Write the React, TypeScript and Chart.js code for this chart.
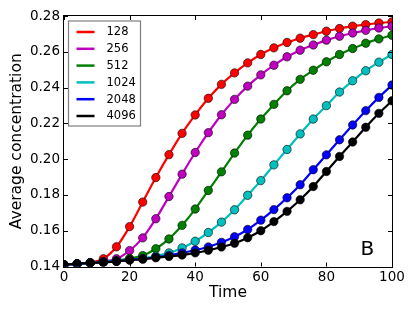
import React, { useEffect, useRef } from "react";
import { Chart, registerables } from "chart.js";

Chart.register(...registerables);

const times = [0, 4, 8, 12, 16, 20, 24, 28, 32, 36, 40, 44, 48, 52, 56, 60, 64, 68, 72, 76, 80, 84, 88, 92, 96, 100];

const seriesLabels = ["128", "256", "512", "1024", "2048", "4096"];
const seriesColors = ["#ff0000", "#bf00bf", "#008000", "#00bfbf", "#0000ff", "#000000"];

const s128 = [0.141, 0.1415, 0.1422, 0.1443, 0.151, 0.1623, 0.176, 0.1897, 0.2025, 0.2144, 0.2247, 0.234, 0.2418, 0.2482, 0.2538, 0.2585, 0.2622, 0.2652, 0.2676, 0.2696, 0.2715, 0.273, 0.2743, 0.2752, 0.2761, 0.2767];
const s256 = [0.141, 0.1415, 0.142, 0.1428, 0.1443, 0.1489, 0.156, 0.1667, 0.1791, 0.1916, 0.2037, 0.2148, 0.2248, 0.2334, 0.2408, 0.2471, 0.2525, 0.2572, 0.2609, 0.2638, 0.2665, 0.2687, 0.2705, 0.272, 0.2733, 0.2743];
const s512 = [0.141, 0.1415, 0.142, 0.1425, 0.1432, 0.1445, 0.1461, 0.1499, 0.1554, 0.163, 0.1721, 0.1825, 0.1929, 0.2034, 0.2134, 0.2224, 0.2306, 0.2382, 0.2446, 0.2497, 0.2544, 0.2585, 0.2618, 0.2648, 0.2672, 0.2692];
const s1024 = [0.141, 0.1415, 0.142, 0.1425, 0.143, 0.1437, 0.1445, 0.1458, 0.1476, 0.1504, 0.1541, 0.159, 0.1648, 0.1717, 0.1798, 0.188, 0.1968, 0.2054, 0.2141, 0.2224, 0.2299, 0.2375, 0.2438, 0.2494, 0.2542, 0.2585];
const s2048 = [0.141, 0.1415, 0.142, 0.1424, 0.1429, 0.1437, 0.1443, 0.1452, 0.1462, 0.1476, 0.1492, 0.1509, 0.1535, 0.1566, 0.1607, 0.1659, 0.1718, 0.1784, 0.1857, 0.1941, 0.2024, 0.2108, 0.2191, 0.2271, 0.2345, 0.2414];
const s4096 = [0.141, 0.1415, 0.142, 0.1424, 0.1429, 0.1436, 0.1441, 0.1449, 0.1456, 0.1464, 0.1476, 0.1491, 0.1509, 0.153, 0.1561, 0.16, 0.1651, 0.1708, 0.1773, 0.1847, 0.1931, 0.2015, 0.2096, 0.2178, 0.2256, 0.2326];

const seriesValues = [s128, s256, s512, s1024, s2048, s4096];

const xTicks = [0, 20, 40, 60, 80, 100];
const yTicks = [0.14, 0.16, 0.18, 0.2, 0.22, 0.24, 0.26, 0.28];

const FONT = "'DejaVu Sans', sans-serif";

const frameTicksPlugin = {
  id: "frameTicks",
  afterDatasetsDraw(chart: any) {
    const { ctx, chartArea } = chart;
    const { left, right, top, bottom } = chartArea;
    const xs = chart.scales.x;
    const ys = chart.scales.y;
    ctx.save();
    ctx.strokeStyle = "#000";
    ctx.lineWidth = 1;
    ctx.beginPath();
    const tl = 4;
    xTicks.forEach((t) => {
      const px = Math.round(xs.getPixelForValue(t)) + 0.5;
      ctx.moveTo(px, bottom);
      ctx.lineTo(px, bottom - tl);
      ctx.moveTo(px, top);
      ctx.lineTo(px, top + tl);
    });
    yTicks.forEach((v) => {
      const py = Math.round(ys.getPixelForValue(v)) + 0.5;
      ctx.moveTo(left, py);
      ctx.lineTo(left + tl, py);
      ctx.moveTo(right, py);
      ctx.lineTo(right - tl, py);
    });
    ctx.stroke();
    ctx.strokeRect(Math.round(left) - 0.5, Math.round(top) - 0.5, Math.round(right - left) + 1, Math.round(bottom - top) + 1);
    ctx.restore();
  },
  afterDraw(chart: any) {
    const { ctx, chartArea } = chart;
    ctx.save();
    // panel letter
    ctx.fillStyle = "#000";
    ctx.font = `20px ${FONT}`;
    ctx.textBaseline = "alphabetic";
    ctx.textAlign = "left";
    ctx.fillText("B", chartArea.right - 31.5, chartArea.bottom - 11.5);
    // legend
    const bx = chartArea.left + 4.5;
    const by = chartArea.top + 5;
    const bw = 72;
    const bh = 105;
    ctx.fillStyle = "#fff";
    ctx.fillRect(bx, by, bw, bh);
    ctx.strokeStyle = "#7f7f7f";
    ctx.lineWidth = 1.2;
    ctx.strokeRect(bx, by, bw, bh);
    ctx.font = `11.5px ${FONT}`;
    ctx.textBaseline = "middle";
    seriesLabels.forEach((lab, i) => {
      const y = by + 11 + i * 16.8;
      ctx.strokeStyle = seriesColors[i];
      ctx.lineWidth = 2.5;
      ctx.beginPath();
      ctx.moveTo(bx + 8, y);
      ctx.lineTo(bx + 26, y);
      ctx.stroke();
      ctx.fillStyle = "#000";
      ctx.fillText(lab, bx + 38, y + 0.5);
    });
    ctx.restore();
  },
};

export default function App() {
  const ref = useRef<HTMLCanvasElement | null>(null);
  useEffect(() => {
    if (!ref.current) return;
    const datasets = seriesLabels.map((lab, i) => ({
      label: lab,
      data: times.map((t, j) => ({ x: t, y: seriesValues[i][j] })),
      borderColor: seriesColors[i],
      backgroundColor: seriesColors[i],
      pointBackgroundColor: seriesColors[i],
      pointBorderColor: "rgba(0,0,0,0.75)",
      pointBorderWidth: 0.8,
      pointRadius: 4.2,
      borderWidth: 2.2,
      cubicInterpolationMode: "monotone" as const,
      fill: false,
      clip: 0,
      order: seriesLabels.length - i,
    }));
    const chart = new Chart(ref.current, {
      type: "line",
      data: { datasets },
      plugins: [frameTicksPlugin],
      options: {
        animation: false,
        responsive: true,
        maintainAspectRatio: false,
        layout: { padding: { left: 0, right: 23, top: 16, bottom: 0 } },
        plugins: { legend: { display: false }, tooltip: { enabled: false } },
        scales: {
          x: {
            type: "linear",
            min: 0,
            max: 100,
            afterBuildTicks: (s: any) => {
              s.ticks = xTicks.map((v) => ({ value: v }));
            },
            afterFit: (s: any) => {
              s.height = 45.5;
            },
            grid: { display: false, drawTicks: false },
            border: { display: false },
            ticks: {
              color: "#000",
              padding: 3,
              font: { family: FONT, size: 13.5 },
              maxRotation: 0,
              callback: (v: any) => String(v),
            },
            title: {
              display: true,
              text: "Time",
              color: "#000",
              font: { family: FONT, size: 15.5 },
              padding: { top: 0, bottom: 9.5 },
            },
          },
          y: {
            type: "linear",
            min: 0.14,
            max: 0.28,
            afterBuildTicks: (s: any) => {
              s.ticks = yTicks.map((v) => ({ value: v }));
            },
            afterFit: (s: any) => {
              s.width = 64;
            },
            grid: { display: false, drawTicks: false },
            border: { display: false },
            ticks: {
              color: "#000",
              padding: 4,
              font: { family: FONT, size: 13.5 },
              callback: (v: any) => Number(v).toFixed(2),
            },
            title: {
              display: true,
              text: "Average concentration",
              color: "#000",
              font: { family: FONT, size: 15.5 },
              padding: { top: 7.5, bottom: 0 },
            },
          },
        },
      },
    });
    return () => chart.destroy();
  }, []);
  return (
    <div style={{ position: "fixed", left: 0, top: 0, width: 415, height: 312, background: "#fff" }}>
      <canvas ref={ref} />
    </div>
  );
}
